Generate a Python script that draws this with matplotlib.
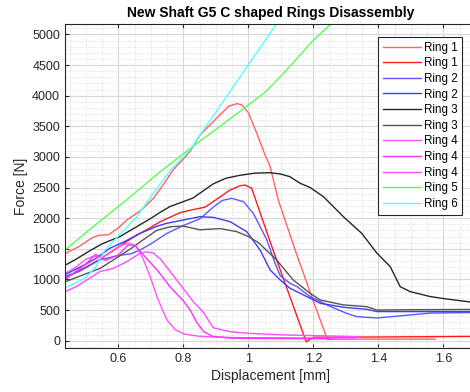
import matplotlib.pyplot as plt
from matplotlib.ticker import MultipleLocator

plt.rcParams['font.family'] = ['Liberation Sans', 'DejaVu Sans']

# displacement [mm] / force [N] for each ring test
ring1a_x = [0.436, 0.48, 0.52, 0.54, 0.57, 0.60, 0.626, 0.67, 0.708, 0.74, 0.769, 0.821, 0.85, 0.90,
            0.94, 0.965, 0.98, 1.0, 1.026, 1.05, 1.067, 1.092, 1.144, 1.20, 1.243, 1.30, 1.574]
ring1a_f = [1420, 1540, 1680, 1720, 1730, 1840, 1970, 2130, 2324, 2560, 2790, 3090, 3350, 3620,
            3830, 3870, 3850, 3720, 3384, 3050, 2840, 2296, 1477, 640, 20, 25, 25]

ring1b_x = [0.436, 0.50, 0.55, 0.60, 0.65, 0.70, 0.728, 0.79, 0.821, 0.867, 0.90, 0.944, 0.975,
            0.99, 1.01, 1.076, 1.178, 1.20, 1.40, 1.70]
ring1b_f = [1020, 1200, 1350, 1530, 1700, 1850, 1940, 2090, 2130, 2180, 2300, 2460, 2530,
            2540, 2490, 1477, -20, 55, 60, 70]

ring2a_x = [0.436, 0.48, 0.52, 0.544, 0.60, 0.64, 0.667, 0.70, 0.749, 0.80, 0.851, 0.892, 0.92,
            0.949, 0.985, 1.015, 1.057, 1.082, 1.098, 1.128, 1.15, 1.19, 1.251, 1.30, 1.333,
            1.395, 1.457, 1.56, 1.70]
ring2a_f = [1050, 1130, 1250, 1320, 1390, 1420, 1480, 1580, 1750, 1880, 1990, 2180, 2290,
            2324, 2268, 2080, 1643, 1263, 1060, 936, 880, 718, 560, 450, 392,
            370, 400, 450, 460]

ring2b_x = [0.436, 0.49, 0.53, 0.574, 0.62, 0.667, 0.72, 0.749, 0.80, 0.851, 0.892, 0.944, 0.995,
            1.036, 1.067, 1.098, 1.128, 1.19, 1.221, 1.292, 1.364, 1.395, 1.70]
ring2b_f = [1080, 1220, 1340, 1508, 1620, 1753, 1870, 1916, 1970, 2024, 2013, 1942, 1779,
            1480, 1153, 990, 855, 692, 610, 545, 512, 475, 473]

ring3a_x = [0.436, 0.47, 0.513, 0.55, 0.605, 0.65, 0.698, 0.73, 0.759, 0.79, 0.83, 0.892, 0.93,
            0.974, 1.02, 1.067, 1.10, 1.128, 1.159, 1.19, 1.231, 1.292, 1.349, 1.395, 1.436,
            1.467, 1.498, 1.559, 1.61, 1.70]
ring3a_f = [1230, 1330, 1470, 1580, 1700, 1840, 1990, 2100, 2190, 2250, 2330, 2560, 2650,
            2700, 2735, 2742, 2720, 2676, 2570, 2500, 2350, 2024, 1750, 1430, 1210,
            880, 800, 720, 680, 620]

ring3b_x = [0.436, 0.48, 0.544, 0.60, 0.646, 0.68, 0.718, 0.76, 0.80, 0.851, 0.913, 0.964, 1.0,
            1.031, 1.087, 1.138, 1.19, 1.221, 1.292, 1.364, 1.395, 1.50, 1.70]
ring3b_f = [960, 1050, 1180, 1370, 1530, 1660, 1800, 1860, 1870, 1810, 1830, 1780, 1700,
            1600, 1317, 990, 773, 664, 583, 555, 500, 505, 510]

ring4a_x = [0.436, 0.47, 0.50, 0.525, 0.55, 0.58, 0.61, 0.635, 0.655, 0.675, 0.698, 0.72, 0.749,
            0.775, 0.80, 0.85, 0.95, 1.10, 1.33]
ring4a_f = [1100, 1200, 1330, 1380, 1360, 1450, 1560, 1590, 1540, 1350, 1045, 700, 340,
            180, 110, 70, 50, 45, 40]

ring4b_x = [0.436, 0.50, 0.53, 0.56, 0.60, 0.63, 0.65, 0.677, 0.72, 0.759, 0.80, 0.821, 0.841,
            0.862, 0.89, 0.95, 1.10, 1.25]
ring4b_f = [1000, 1250, 1410, 1310, 1400, 1560, 1560, 1400, 1150, 881, 650, 500, 300,
            150, 70, 40, 35, 30]

ring4c_x = [0.436, 0.47, 0.503, 0.544, 0.585, 0.626, 0.667, 0.687, 0.708, 0.73, 0.759, 0.80, 0.83,
            0.862, 0.892, 0.944, 1.0, 1.10, 1.34]
ring4c_f = [800, 880, 990, 1130, 1180, 1290, 1426, 1450, 1430, 1330, 1130, 850, 640,
            460, 210, 145, 120, 95, 65]

ring5_x = [0.436, 0.52, 0.626, 0.72, 0.821, 0.90, 0.967, 1.05, 1.108, 1.20, 1.26]
ring5_f = [1480, 1850, 2300, 2720, 3140, 3450, 3716, 4050, 4364, 4907, 5200]

ring6_x = [0.436, 0.498, 0.53, 0.559, 0.60, 0.657, 0.713, 0.76, 0.82, 0.851, 0.919, 1.09]
ring6_f = [860, 1020, 1200, 1480, 1710, 2024, 2450, 2780, 3112, 3356, 3880, 5200]

series = [
    (ring1a_x, ring1a_f, '#ff6262', 'Ring 1'),
    (ring1b_x, ring1b_f, '#ff1a1a', 'Ring 1'),
    (ring2a_x, ring2a_f, '#5a5aff', 'Ring 2'),
    (ring2b_x, ring2b_f, '#3c3cff', 'Ring 2'),
    (ring3a_x, ring3a_f, '#262626', 'Ring 3'),
    (ring3b_x, ring3b_f, '#555555', 'Ring 3'),
    (ring4a_x, ring4a_f, '#ff55ff', 'Ring 4'),
    (ring4b_x, ring4b_f, '#ff2eff', 'Ring 4'),
    (ring4c_x, ring4c_f, '#ff4dff', 'Ring 4'),
    (ring5_x, ring5_f, '#55ff55', 'Ring 5'),
    (ring6_x, ring6_f, '#55ffff', 'Ring 6'),
]

fig = plt.figure(figsize=(4.70, 3.92), dpi=100)
ax = fig.add_axes([65 / 470, 44 / 392, 411 / 470, 324 / 392])

for x, f, c, name in series:
    ax.plot(x, f, color=c, linewidth=1.0, label=name)

ax.set_xlim(0.436, 1.7)
ax.set_ylim(-120, 5170)
ax.xaxis.set_major_locator(MultipleLocator(0.2))
ax.xaxis.set_minor_locator(MultipleLocator(0.05))
ax.yaxis.set_major_locator(MultipleLocator(500))
ax.yaxis.set_minor_locator(MultipleLocator(100))

ax.grid(which='major', color='#d8d8d8', linewidth=0.8)
ax.grid(which='minor', color='#d0d0d0', linewidth=0.6, linestyle=(0, (1, 2)))
ax.set_axisbelow(True)

ax.tick_params(which='both', direction='in', top=True, right=True, colors='#262626',
               labelsize=9)
ax.tick_params(which='major', length=3)
ax.tick_params(which='minor', length=0)
for s in ax.spines.values():
    s.set_color('#262626')
    s.set_linewidth(0.8)

ax.set_xticklabels([f'{t:g}' for t in ax.get_xticks()])
ax.set_title('New Shaft G5 C shaped Rings Disassembly', fontsize=10, fontweight='bold',
             color='black', pad=5)
ax.set_xlabel('Displacement [mm]', fontsize=10, color='#262626', labelpad=3)
ax.set_ylabel('Force [N]', fontsize=10, color='#262626', labelpad=3)

leg = ax.legend(loc='upper right', bbox_to_anchor=(462 / 470, 1 - 37 / 392),
                bbox_transform=fig.transFigure, fontsize=8.4, handlelength=3.3,
                labelspacing=0.31, borderaxespad=0, borderpad=0.4, handletextpad=0.2,
                fancybox=False, framealpha=1, edgecolor='#262626')
leg.get_frame().set_linewidth(0.8)

fig.savefig('out.png', dpi=100)
